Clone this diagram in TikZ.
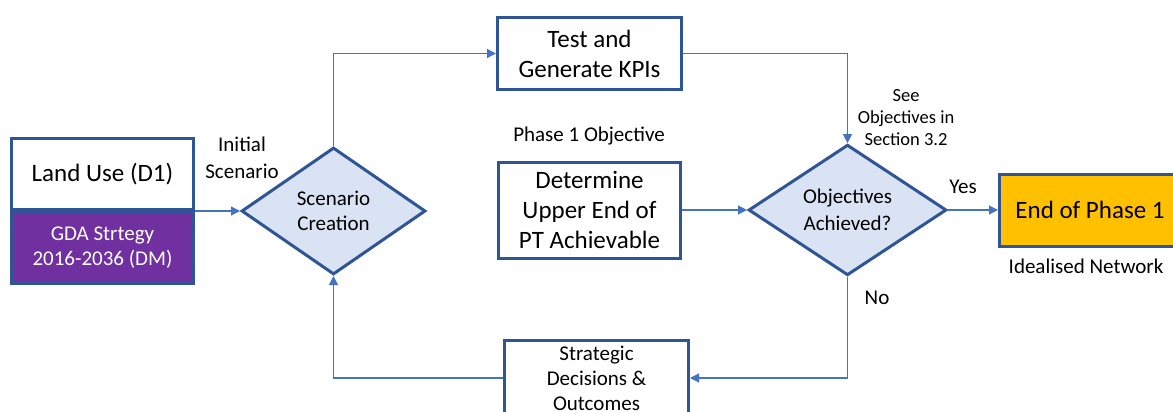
\documentclass[tikz,border=0pt]{standalone}
\usepackage{fontspec}
\setmainfont{Carlito}
\usetikzlibrary{shapes.geometric,arrows.meta}
\definecolor{bord}{HTML}{2F5597}
\definecolor{linkblue}{HTML}{4472C4}
\definecolor{dfill}{HTML}{DAE3F3}
\definecolor{purp}{HTML}{7030A0}
\definecolor{gold}{HTML}{FFC000}
\begin{document}
\begin{tikzpicture}[x=1pt,y=-1pt,
  box/.style={draw=bord,line width=3pt,rectangle,inner sep=0pt,align=center,fill=white},
  dia/.style={draw=bord,line width=3pt,diamond,fill=dfill,inner sep=0pt,align=center},
  link/.style={draw=linkblue,line width=1.2pt,-{Triangle[length=9pt,width=9pt]}},
  lab/.style={align=center,inner sep=0pt},
  fbig/.style={font=\fontsize{25}{30}\selectfont},
  fmid/.style={font=\fontsize{21}{25}\selectfont},
  fmidw/.style={font=\fontsize{21}{27}\selectfont},
  fsmall/.style={font=\fontsize{18.5}{22}\selectfont}
]
\useasboundingbox (0,0) rectangle (1173,412);
% nodes
\node[box,fbig,minimum width=182pt,minimum height=71pt] (LU) at (102.5,174) {Land Use (D1)};
\node[box,fmid,fill=purp,text=white,minimum width=182pt,minimum height=71pt] (GDA) at (102.5,248) {GDA Strtegy\\2016-2036 (DM)};
\node[dia,fmid,minimum width=184pt,minimum height=127pt] (SC) at (333.5,211) {Scenario\\Creation};
\node[box,fbig,minimum width=184pt,minimum height=72pt] (TK) at (589.5,53.5) {Test and\\Generate KPIs};
\node[box,fbig,minimum width=182pt,minimum height=96pt] (DU) at (589.5,210) {Determine\\Upper End of\\PT Achievable};
\node[dia,fmidw,minimum width=198pt,minimum height=127pt] (OA) at (847.5,210) {Objectives\\Achieved?};
\node[box,fbig,fill=gold,minimum width=181pt,minimum height=72pt] (EP) at (1090,210) {End of Phase 1};
\node[box,fmid,minimum width=184pt,minimum height=76pt] (SD) at (596.5,378) {Strategic\\Decisions \&\\Outcomes};
% labels
\node[lab,fmidw] (IS) at (242,158) {Initial\\Scenario};
\node[lab,fmid] (P1) at (589,136) {Phase 1 Objective};
\node[lab,fsmall] (SO) at (906,118) {See\\Objectives in\\Section 3.2};
\node[lab,fmid] (Y) at (963,187) {Yes};
\node[lab,fmid] (N) at (877,298) {No};
\node[lab,fmid] (IN) at (1086,266) {Idealised Network};
% connectors
\draw[link] (LU.south east) -- (SC.west);
\draw[link] (SC.north) |- (TK.west);
\draw[link] (TK.east) -| (OA.north);
\draw[link] (DU.east) -- (OA.west);
\draw[link] (OA.east) -- (EP.west);
\draw[link] (OA.south) |- (SD.east);
\draw[link] (SD.west) -| (SC.south);
\end{tikzpicture}
\end{document}
